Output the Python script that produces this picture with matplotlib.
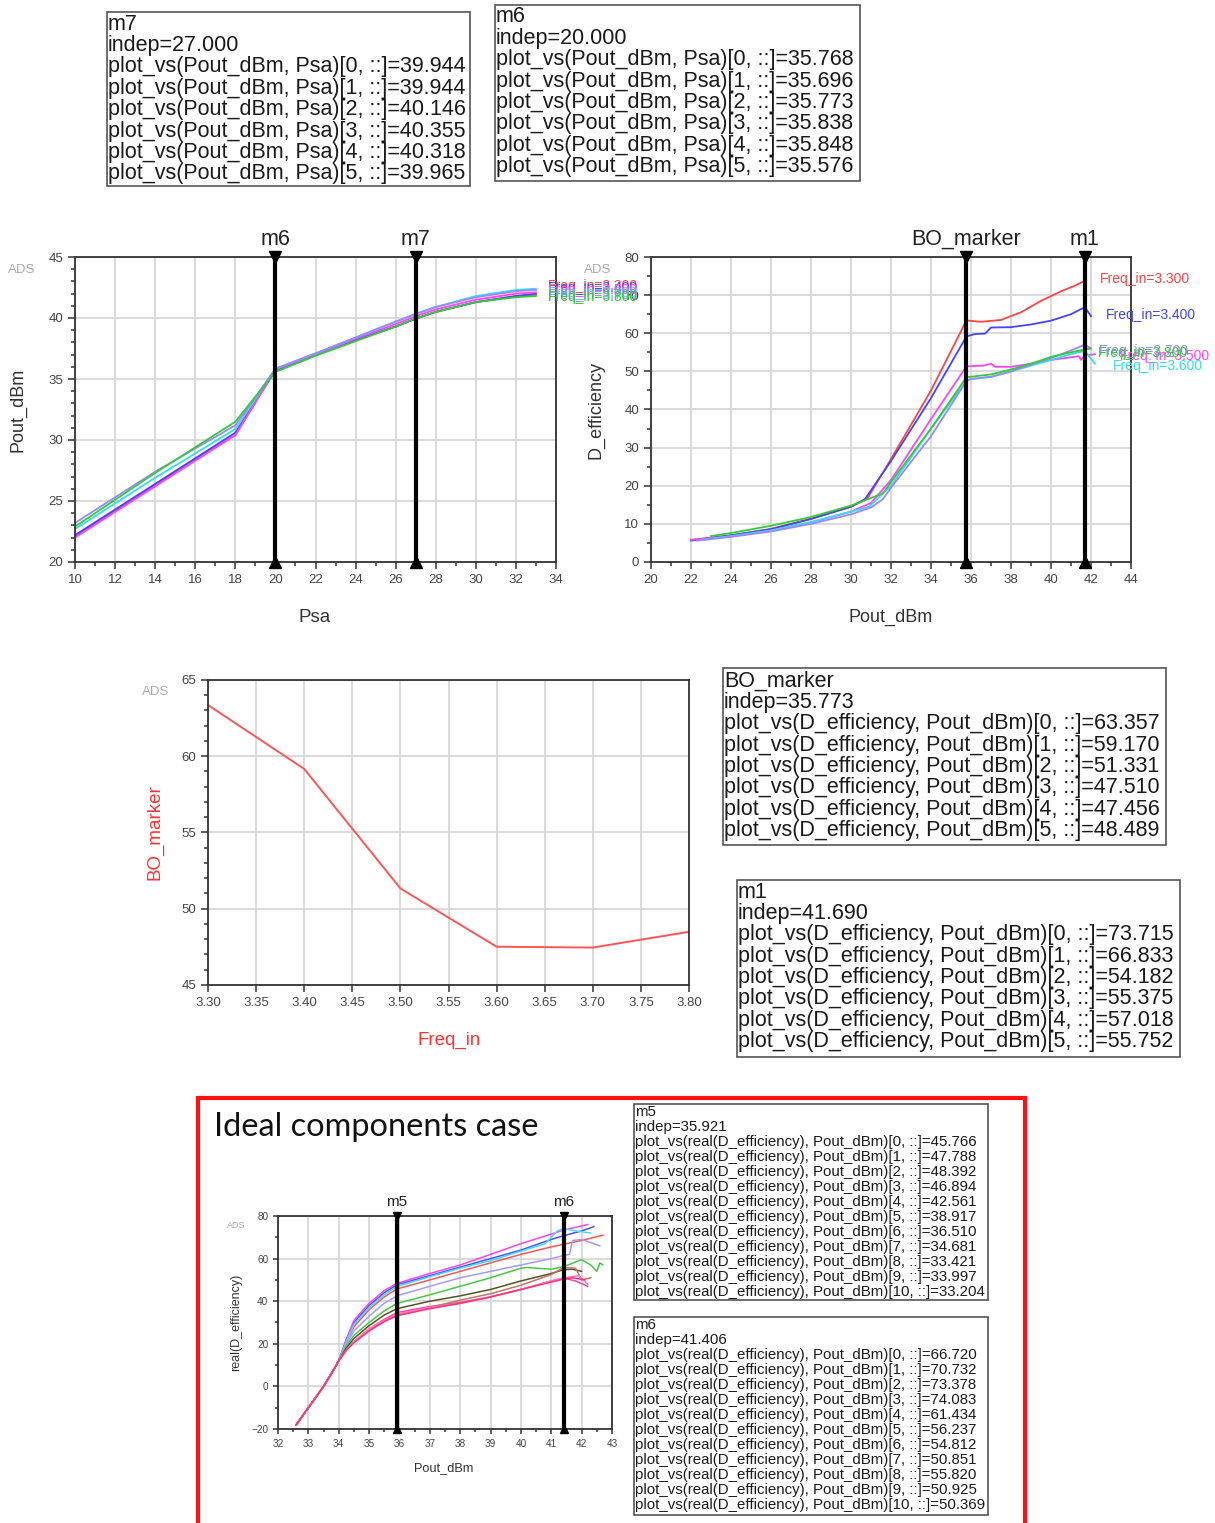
import matplotlib
matplotlib.use("Agg")
import matplotlib.pyplot as plt
import matplotlib.patches as patches
from matplotlib.ticker import MultipleLocator

plt.rcParams['font.family'] = ['Liberation Sans', 'DejaVu Sans']

W, H = 1215, 1523

# ---------------- data ----------------
freq_labels = ["Freq_in=3.300", "Freq_in=3.400", "Freq_in=3.500",
               "Freq_in=3.600", "Freq_in=3.700", "Freq_in=3.800"]
colors6 = ['#ff4444', '#4444ff', '#ff44ff', '#33ddee', '#9988ff', '#33cc33']

# Pout_dBm vs Psa
psa = [10, 12, 14, 16, 18, 20, 22, 24, 26, 27, 28, 30, 32, 33]
pout_0 = [22.1, 24.2, 26.3, 28.4, 30.4, 35.768, 37.0, 38.2, 39.3, 39.944, 40.5, 41.3, 41.8, 41.9]
pout_1 = [22.2, 24.3, 26.4, 28.5, 30.6, 35.696, 37.0, 38.2, 39.3, 39.944, 40.5, 41.3, 41.8, 42.0]
pout_2 = [22.0, 24.1, 26.2, 28.3, 30.4, 35.773, 37.0, 38.3, 39.5, 40.146, 40.7, 41.5, 42.0, 42.1]
pout_3 = [22.7, 24.8, 26.9, 28.9, 30.9, 35.838, 37.1, 38.4, 39.7, 40.355, 40.9, 41.8, 42.3, 42.4]
pout_4 = [23.2, 25.3, 27.4, 29.3, 31.2, 35.848, 37.1, 38.4, 39.7, 40.318, 40.9, 41.7, 42.2, 42.3]
pout_5 = [22.9, 25.1, 27.3, 29.4, 31.5, 35.576, 36.9, 38.1, 39.3, 39.965, 40.5, 41.3, 41.7, 41.8]
m6_psa, m7_psa = 20.0, 27.0

# D_efficiency vs Pout_dBm
eff_x0 = [22, 24, 26, 28, 30, 30.8, 32, 34, 35.773, 36.5, 37.5, 38.5, 39.5, 40.5, 41.2, 41.69]
eff_y0 = [5.8, 7.0, 8.7, 11.3, 14.5, 16.5, 27, 45, 63.357, 63.0, 63.5, 65.5, 68.5, 71.0, 72.5, 73.715]
eff_x1 = [22, 24, 26, 28, 30, 30.7, 32, 34, 35.773, 36.2, 36.7, 37.0, 38, 39, 40, 41, 41.69, 42.0]
eff_y1 = [5.6, 7.0, 8.6, 11.3, 14.5, 16.5, 26.5, 43, 59.170, 59.8, 59.9, 61.5, 61.6, 62.3, 63.3, 65.0, 66.833, 64.5]
eff_x2 = [22, 24, 26, 28, 30, 31, 32, 34, 35.773, 36.6, 37, 37.2, 38, 39, 40, 41, 41.4, 41.5, 41.69, 42.2]
eff_y2 = [5.8, 6.7, 8.2, 10.4, 13.2, 15.5, 21.5, 37.5, 51.331, 51.5, 52.0, 51.2, 51.2, 52.0, 53.0, 53.7, 54.0, 53.0, 54.182, 54.5]
eff_x3 = [22.5, 24, 26, 28, 30, 30.9, 32, 34, 35.773, 36, 37, 38, 39, 40, 41, 41.69, 42.2]
eff_y3 = [5.8, 6.8, 8.3, 10.5, 13.2, 14.5, 20, 35, 47.510, 48.0, 48.5, 50.0, 51.5, 53.0, 54.5, 55.375, 52.0]
eff_x4 = [22.3, 24, 26, 28, 30, 31, 31.6, 32, 34, 35.773, 36, 37, 38, 39, 40, 41, 41.69, 42]
eff_y4 = [5.6, 6.6, 8.0, 10.0, 12.5, 14.3, 16.5, 19.5, 33, 47.456, 48.0, 48.6, 50.0, 51.8, 53.5, 55.5, 57.018, 56.0]
eff_x5 = [23, 24, 26, 28, 30, 31.6, 32, 34, 35.773, 36, 37, 38, 39, 40, 41, 41.69, 42]
eff_y5 = [6.8, 7.6, 9.5, 11.8, 14.8, 18, 21, 35, 48.489, 48.6, 49.2, 50.5, 52.0, 53.8, 55.0, 55.752, 56.0]
bo_pout, m1_pout = 35.773, 41.69

# BO_marker vs Freq_in
freq_in = [3.30, 3.40, 3.50, 3.60, 3.70, 3.80]
bo_marker = [63.357, 59.170, 51.331, 47.510, 47.456, 48.489]

# Ideal components case: real(D_efficiency) vs Pout_dBm
colors11 = ['#ff5555', '#4455ff', '#ff44ee', '#44ddff', '#a899ff', '#44cc44',
            '#555522', '#ff4499', '#c07766', '#ff77cc', '#ff3377']
common_x = [32.6, 33.0, 33.5, 33.8, 34.0]
common_y = [-18, -10, 0, 7, 12]
ideal_x0 = [34.25, 34.5, 35.0, 35.5, 35.921, 37, 38, 39, 40, 41, 41.406, 42.0, 42.7]
ideal_y0 = [21, 28, 36, 42, 45.766, 50, 54, 58, 62, 65.5, 66.720, 68.5, 71]
ideal_x1 = [34.25, 34.5, 35.0, 35.5, 35.921, 37, 38, 39, 40, 41, 41.406, 42.0, 42.4]
ideal_y1 = [22, 30, 38, 44, 47.788, 52, 56, 60, 64, 69, 70.732, 73, 75]
ideal_x2 = [34.25, 34.5, 35.0, 35.5, 35.921, 37, 38, 39, 40, 41, 41.406, 41.9, 42.2]
ideal_y2 = [22, 31, 39, 45, 48.392, 53, 57, 62, 67, 71.5, 73.378, 75, 76]
ideal_x3 = [34.25, 34.5, 35.0, 35.5, 35.921, 37, 38, 39, 40, 40.8, 41.2, 41.406, 41.8, 42.3]
ideal_y3 = [21, 29, 37, 43, 46.894, 51.5, 55.5, 59, 63.5, 67, 73, 74.083, 73, 72]
ideal_x4 = [34.25, 34.5, 35.0, 35.5, 35.921, 37, 38, 39, 40, 41, 41.406, 41.6, 41.7, 42.0, 42.6]
ideal_y4 = [20, 26, 33, 39, 42.561, 47, 51, 54, 57, 60, 61.434, 62, 68.5, 69, 66]
ideal_x5 = [34.25, 34.5, 35.0, 35.5, 35.921, 37, 38, 39, 40, 40.2, 41, 41.406, 42.0, 42.3, 42.5, 42.6, 42.7]
ideal_y5 = [19, 24, 30, 35.5, 38.917, 43, 47, 51, 55.5, 55.8, 55, 56.237, 59.5, 57, 54, 58, 57]
ideal_x6 = [34.25, 34.5, 35.0, 35.5, 35.921, 37, 38, 39, 40, 41, 41.406, 41.7, 42.0]
ideal_y6 = [18, 22.5, 28.5, 33.5, 36.510, 40, 42.5, 45.5, 49.5, 53, 54.812, 55, 54]
ideal_x7 = [34.25, 34.5, 35.0, 35.5, 35.921, 37, 38, 39, 40, 41, 41.406, 41.8, 42.2]
ideal_y7 = [17, 21, 27, 31.5, 34.681, 37.5, 39.5, 42, 45.5, 49.5, 50.851, 49.5, 47]
ideal_x8 = [34.25, 34.5, 35.0, 35.5, 35.921, 37, 38, 39, 40, 41, 41.406, 41.8, 42.0, 42.3]
ideal_y8 = [17, 21, 26.5, 30.5, 33.421, 37, 40.5, 43.5, 47.5, 52.5, 55.820, 55.5, 50, 51]
ideal_x9 = [34.25, 34.5, 35.0, 35.5, 35.921, 37, 38, 39, 40, 41, 41.406, 41.9, 42.2]
ideal_y9 = [17, 21, 27, 31, 33.997, 37, 39, 42, 45.5, 49.5, 50.925, 52, 48]
ideal_x10 = [34.25, 34.5, 35.0, 35.5, 35.921, 37, 38, 39, 40, 41, 41.406, 41.7, 42.1]
ideal_y10 = [17, 20.5, 26, 30.5, 33.204, 36.5, 39, 42, 45.5, 49, 50.369, 51, 50]
m5_pout, m6_pout = 35.921, 41.406

# marker readout boxes
box_m7 = ["m7", "indep=27.000"] + ["plot_vs(Pout_dBm, Psa)[%d, ::]=%s" % (i, v) for i, v in
         enumerate(["39.944", "39.944", "40.146", "40.355", "40.318", "39.965"])]
box_m6 = ["m6", "indep=20.000"] + ["plot_vs(Pout_dBm, Psa)[%d, ::]=%s" % (i, v) for i, v in
         enumerate(["35.768", "35.696", "35.773", "35.838", "35.848", "35.576"])]
box_bo = ["BO_marker", "indep=35.773"] + ["plot_vs(D_efficiency, Pout_dBm)[%d, ::]=%s" % (i, v) for i, v in
         enumerate(["63.357", "59.170", "51.331", "47.510", "47.456", "48.489"])]
box_m1 = ["m1", "indep=41.690"] + ["plot_vs(D_efficiency, Pout_dBm)[%d, ::]=%s" % (i, v) for i, v in
         enumerate(["73.715", "66.833", "54.182", "55.375", "57.018", "55.752"])]
box_m5b = ["m5", "indep=35.921"] + ["plot_vs(real(D_efficiency), Pout_dBm)[%d, ::]=%s" % (i, v) for i, v in
          enumerate(["45.766", "47.788", "48.392", "46.894", "42.561", "38.917",
                     "36.510", "34.681", "33.421", "33.997", "33.204"])]
box_m6b = ["m6", "indep=41.406"] + ["plot_vs(real(D_efficiency), Pout_dBm)[%d, ::]=%s" % (i, v) for i, v in
          enumerate(["66.720", "70.732", "73.378", "74.083", "61.434", "56.237",
                     "54.812", "50.851", "55.820", "50.925", "50.369"])]

# ---------------- helpers ----------------
fig = plt.figure(figsize=(W / 100, H / 100), dpi=100)


def fx(x):
    return x / W


def fy(y):
    return 1 - y / H


def make_ax(x0, y0, x1, y1):
    return fig.add_axes([x0 / W, 1 - y1 / H, (x1 - x0) / W, (y1 - y0) / H])


def style_ax(ax, fs):
    ax.grid(True, which='major', color='#d4d4d4', lw=1.2)
    ax.set_axisbelow(True)
    for s in ax.spines.values():
        s.set_color('#333333')
        s.set_linewidth(1.3)
    ax.tick_params(which='both', direction='out', colors='#333333', labelcolor='#444444',
                   labelsize=fs, width=1.1)
    ax.tick_params(which='major', length=5)
    ax.tick_params(which='minor', length=3)


def marker(ax, x, label, fs, ms):
    y0, y1 = ax.get_ylim()
    ax.plot([x, x], [y0, y1], color='black', lw=3, solid_capstyle='butt', zorder=5)
    ax.plot([x], [y1], marker='v', color='black', ms=ms, clip_on=False, zorder=6)
    ax.plot([x], [y0], marker='^', color='black', ms=ms, clip_on=False, zorder=6)
    ax.annotate(label, (x, y1), xytext=(0, 5), textcoords='offset points',
                ha='center', va='bottom', fontsize=fs, color='#222222')


def text_box(lines, x0, y0, x1, y1, first, step, fs):
    fig.patches.append(patches.Rectangle((fx(x0), fy(y1)), (x1 - x0) / W, (y1 - y0) / H,
                                         transform=fig.transFigure, fill=False,
                                         edgecolor='#555555', lw=1.2))
    for i, t in enumerate(lines):
        fig.text(fx(x0 + 1), fy(first + i * step), t, fontsize=fs, color='#1a1a1a',
                 ha='left', va='center')


# ---------------- text boxes ----------------
text_box(box_m7, 107, 12, 470, 186, 24, 21.4, 15.5)
text_box(box_m6, 495, 5, 860, 181, 17, 21.4, 15.5)
text_box(box_bo, 723, 668, 1166, 845, 681, 21.4, 15.5)
text_box(box_m1, 737, 880, 1180, 1057, 892, 21.4, 15.5)
text_box(box_m5b, 634, 1104, 988, 1300, 1112, 15.0, 10.8)
text_box(box_m6b, 634, 1317, 988, 1515, 1325, 15.0, 10.8)

# ---------------- plot 1: Pout_dBm vs Psa ----------------
ax1 = make_ax(75, 257, 556, 562)
for ys, c in zip([pout_0, pout_1, pout_2, pout_3, pout_4, pout_5], colors6):
    ax1.plot(psa, ys, color=c, lw=1.3)
ax1.set_xlim(10, 34)
ax1.set_ylim(20, 45)
ax1.xaxis.set_major_locator(MultipleLocator(2))
ax1.xaxis.set_minor_locator(MultipleLocator(1))
ax1.yaxis.set_major_locator(MultipleLocator(5))
ax1.yaxis.set_minor_locator(MultipleLocator(1))
style_ax(ax1, 9.5)
marker(ax1, m6_psa, "m6", 15.5, 9)
marker(ax1, m7_psa, "m7", 15.5, 9)
fig.text(fx(18), fy(410), "Pout_dBm", rotation=90, ha='center', va='center', fontsize=13, color='#333333')
fig.text(fx(315), fy(617), "Psa", ha='center', va='center', fontsize=13.5, color='#333333')
fig.text(fx(22), fy(270), "ADS", ha='center', va='center', fontsize=9.5, color='#aaaaaa')
for i, c in enumerate(colors6):
    fig.text(fx(548), fy(286 + 2.2 * i), freq_labels[i], ha='left', va='center', fontsize=10, color=c)

# ---------------- plot 2: D_efficiency vs Pout_dBm ----------------
ax2 = make_ax(651, 257, 1131, 562)
eff_x = [eff_x0, eff_x1, eff_x2, eff_x3, eff_x4, eff_x5]
eff_y = [eff_y0, eff_y1, eff_y2, eff_y3, eff_y4, eff_y5]
for xs, ys, c in zip(eff_x, eff_y, colors6):
    ax2.plot(xs, ys, color=c, lw=1.3)
ax2.set_xlim(20, 44)
ax2.set_ylim(0, 80)
ax2.xaxis.set_major_locator(MultipleLocator(2))
ax2.xaxis.set_minor_locator(MultipleLocator(1))
ax2.yaxis.set_major_locator(MultipleLocator(10))
ax2.yaxis.set_minor_locator(MultipleLocator(5))
style_ax(ax2, 9.5)
marker(ax2, bo_pout, "BO_marker", 15.5, 9)
marker(ax2, m1_pout, "m1", 15.5, 9)
fig.text(fx(596), fy(410), "D_efficiency", rotation=90, ha='center', va='center', fontsize=13, color='#333333')
fig.text(fx(891), fy(617), "Pout_dBm", ha='center', va='center', fontsize=13, color='#333333')
fig.text(fx(598), fy(270), "ADS", ha='center', va='center', fontsize=9.5, color='#aaaaaa')
lab_pos = [(1100, 279), (1106, 315), (1120, 356), (1113, 366), (1099, 351), (1098, 353)]
for (lx, ly), t, c in zip(lab_pos, freq_labels, colors6):
    fig.text(fx(lx), fy(ly), t, ha='left', va='center', fontsize=10, color=c)

# ---------------- plot 3: BO_marker vs Freq_in ----------------
ax3 = make_ax(208, 680, 689, 985)
ax3.plot(freq_in, bo_marker, color='#ff5555', lw=1.4)
ax3.set_xlim(3.30, 3.80)
ax3.set_ylim(45, 65)
ax3.set_xticks([3.30 + 0.05 * i for i in range(11)])
ax3.set_xticklabels(["%.2f" % (3.30 + 0.05 * i) for i in range(11)])
ax3.yaxis.set_major_locator(MultipleLocator(5))
ax3.yaxis.set_minor_locator(MultipleLocator(1))
style_ax(ax3, 9.5)
fig.text(fx(155), fy(832), "BO_marker", rotation=90, ha='center', va='center', fontsize=13.5, color='#ff3333')
fig.text(fx(449), fy(1040), "Freq_in", ha='center', va='center', fontsize=13.5, color='#ff3333')
fig.text(fx(156), fy(692), "ADS", ha='center', va='center', fontsize=9.5, color='#aaaaaa')

# ---------------- ideal components case ----------------
fig.patches.append(patches.Rectangle((fx(198), fy(1540)), (1025 - 198) / W, (1540 - 1098) / H,
                                     transform=fig.transFigure, fill=False,
                                     edgecolor='#ff1111', lw=3))
fig.text(fx(214), fy(1127), "Ideal components case", ha='left', va='center',
         fontsize=23.4, color='#111111', family=['Lato', 'DejaVu Sans'])

ax4 = make_ax(278, 1216, 612, 1429)
ideal_x = [ideal_x0, ideal_x1, ideal_x2, ideal_x3, ideal_x4, ideal_x5,
           ideal_x6, ideal_x7, ideal_x8, ideal_x9, ideal_x10]
ideal_y = [ideal_y0, ideal_y1, ideal_y2, ideal_y3, ideal_y4, ideal_y5,
           ideal_y6, ideal_y7, ideal_y8, ideal_y9, ideal_y10]
for xs, ys, c in zip(ideal_x, ideal_y, colors11):
    ax4.plot(common_x + xs, common_y + ys, color=c, lw=1.1)
ax4.set_xlim(32, 43)
ax4.set_ylim(-20, 80)
ax4.xaxis.set_major_locator(MultipleLocator(1))
ax4.xaxis.set_minor_locator(MultipleLocator(0.5))
ax4.yaxis.set_major_locator(MultipleLocator(20))
ax4.yaxis.set_minor_locator(MultipleLocator(10))
style_ax(ax4, 7.2)
ax4.tick_params(which='major', length=3.5)
ax4.tick_params(which='minor', length=2)
marker(ax4, m5_pout, "m5", 11, 6)
marker(ax4, m6_pout, "m6", 11, 6)
fig.text(fx(236), fy(1322), "real(D_efficiency)", rotation=90, ha='center', va='center', fontsize=9, color='#333333')
fig.text(fx(444), fy(1468), "Pout_dBm", ha='center', va='center', fontsize=9.2, color='#333333')
fig.text(fx(236), fy(1225), "ADS", ha='center', va='center', fontsize=6.5, color='#aaaaaa')

fig.savefig("out.png", dpi=100)
